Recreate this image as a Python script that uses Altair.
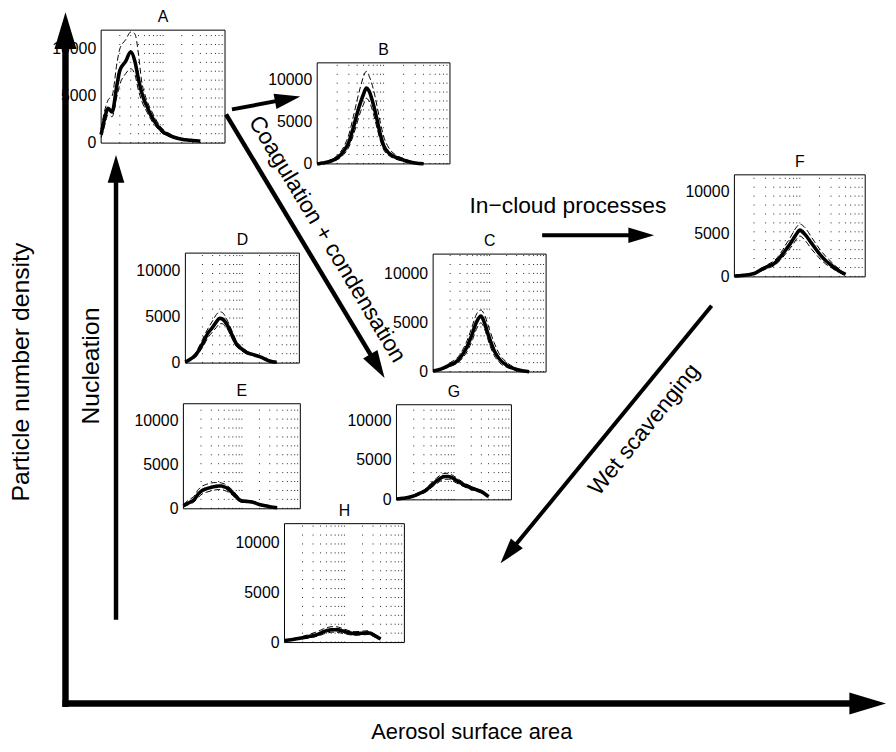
import altair as alt
import pandas as pd

# particle diameter (nm) at which the distributions were read
DIAM = [10, 11, 13, 15, 18, 20, 25, 30, 35, 40, 45, 50, 55, 60, 70, 80, 90,
        100, 120, 150, 200, 250, 300, 400, 500]

# dN/dlogDp for each regime: median (thick) and the two bounds (dashed)
A_MEAN = [900, 2200, 3700, 3300, 6200, 7700, 8700, 9700, 8700, 6800, 5400, 4500, 3900,
          3300, 2500, 1900, 1500, 1200, 900, 620, 420, 330, 280, 200, None]
A_HIGH = [1500, 3000, 4600, 5000, 8500, 10000, 11000, 11800, 11600, 9500, 6600, 5300, 4500,
          3900, 3000, 2300, 1800, 1450, 1100, 760, 500, 400, 330, 240, None]
A_LOW = [600, 1500, 3000, 2800, 5000, 6200, 7400, 7900, 7300, 5600, 4500, 3800, 3300,
         2800, 2100, 1600, 1250, 1000, 750, 520, 350, 280, 230, 160, None]

B_MEAN = [0, 60, 150, 260, 500, 700, 1500, 2600, 4300, 6000, 7300, 8300, 9000,
          8700, 7100, 5200, 3400, 2200, 1300, 800, 450, 230, 120, 20, None]
B_HIGH = [0, 100, 250, 400, 700, 1000, 2000, 3500, 5600, 7600, 9200, 10400, 11000,
          10500, 8900, 6800, 4800, 3300, 1900, 1100, 650, 350, 180, 40, None]
B_LOW = [0, 30, 100, 180, 350, 500, 1100, 2000, 3400, 4900, 6200, 7100, 7800,
         7500, 6000, 4200, 2700, 1700, 1000, 600, 330, 160, 80, 10, None]

C_MEAN = [100, 150, 260, 400, 600, 750, 1000, 1450, 2000, 2600, 3300, 4000, 4700,
          5200, 5700, 5100, 4200, 3400, 2200, 1300, 700, 420, 260, 100, 30]
C_HIGH = [150, 200, 330, 500, 750, 950, 1300, 1800, 2500, 3200, 4000, 4800, 5500,
          6000, 6300, 5900, 5100, 4300, 3000, 1800, 1000, 600, 380, 160, 50]
C_LOW = [60, 100, 190, 300, 450, 560, 800, 1150, 1600, 2100, 2700, 3300, 4000,
         4500, 5000, 4500, 3600, 2800, 1700, 950, 480, 280, 160, 60, 15]

D_MEAN = [100, 250, 550, 850, 1600, 2100, 3300, 3900, 4500, 4900, 4800, 4500, 4100,
          3600, 2700, 2000, 1700, 1500, 1150, 950, 700, 450, 230, 100, None]
D_HIGH = [150, 350, 700, 1100, 2000, 2600, 3800, 4600, 5300, 5600, 5500, 5100, 4600,
          4100, 3100, 2300, 1950, 1700, 1300, 1050, 780, 500, 270, 120, None]
D_LOW = [60, 180, 420, 650, 1300, 1700, 2800, 3400, 3900, 4300, 4300, 4000, 3700,
         3200, 2400, 1800, 1500, 1300, 1000, 850, 620, 400, 200, 80, None]

E_MEAN = [350, 500, 750, 1000, 1700, 2000, 2300, 2450, 2550, 2600, 2600, 2500, 2400,
          2200, 1800, 1400, 1050, 900, 850, 780, 500, 350, 240, 120, None]
E_HIGH = [500, 750, 1100, 1400, 2200, 2500, 2800, 2950, 3000, 3000, 2950, 2850, 2700,
          2500, 2100, 1650, 1250, 1050, 950, 870, 580, 400, 280, 140, None]
E_LOW = [250, 350, 550, 750, 1300, 1600, 1900, 2050, 2150, 2200, 2200, 2100, 2000,
         1850, 1500, 1150, 850, 750, 720, 680, 430, 300, 200, 100, None]

F_MEAN = [100, 120, 170, 220, 320, 400, 800, 1100, 1350, 1550, 1900, 2300, 2700,
          3100, 3800, 4500, 5100, 5500, 5000, 4000, 2700, 1900, 1400, 700, 300]
F_HIGH = [130, 160, 220, 280, 400, 500, 950, 1300, 1600, 1850, 2250, 2700, 3200,
          3700, 4500, 5300, 5900, 6200, 5800, 4700, 3300, 2400, 1800, 900, 380]
F_LOW = [70, 90, 120, 170, 250, 320, 650, 900, 1100, 1300, 1600, 1950, 2300,
         2650, 3300, 3900, 4500, 4800, 4300, 3300, 2200, 1500, 1100, 520, 220]

G_MEAN = [100, 130, 200, 270, 400, 500, 800, 1050, 1400, 1800, 2100, 2400, 2600,
          2800, 2950, 2950, 2850, 2650, 2300, 1900, 1500, 1250, 1050, 400, None]
G_HIGH = [150, 180, 260, 350, 500, 620, 950, 1250, 1650, 2100, 2450, 2750, 3000,
          3200, 3350, 3350, 3200, 3000, 2600, 2150, 1700, 1400, 1150, 500, None]
G_LOW = [60, 90, 150, 200, 300, 380, 650, 870, 1150, 1500, 1800, 2050, 2250,
         2450, 2600, 2600, 2500, 2300, 2000, 1650, 1300, 1100, 880, 350, None]

H_MEAN = [200, 230, 290, 350, 430, 480, 600, 700, 800, 950, 1100, 1200, 1250,
          1300, 1300, 1280, 1200, 1120, 1000, 900, 950, 1000, 800, 350, None]
H_HIGH = [250, 290, 360, 430, 540, 620, 800, 950, 1100, 1250, 1400, 1500, 1550,
          1600, 1600, 1550, 1450, 1350, 1200, 1100, 1150, 1200, 950, 420, None]
H_LOW = [150, 180, 230, 280, 340, 380, 470, 550, 630, 750, 870, 950, 1000,
         1050, 1050, 1020, 950, 900, 800, 730, 780, 820, 650, 280, None]

PANELS = ["A", "B", "C", "D", "E", "F", "G", "H"]
SERIES = [(A_MEAN, A_HIGH, A_LOW), (B_MEAN, B_HIGH, B_LOW), (C_MEAN, C_HIGH, C_LOW),
          (D_MEAN, D_HIGH, D_LOW), (E_MEAN, E_HIGH, E_LOW), (F_MEAN, F_HIGH, F_LOW),
          (G_MEAN, G_HIGH, G_LOW), (H_MEAN, H_HIGH, H_LOW)]

GRID_D = [20, 30, 40, 50, 60, 70, 80, 90, 100, 200, 300, 400, 500, 600, 700, 800, 900]
Y_TICKS = [0, 5000, 10000]

LABELS = ["Particle number density", "Aerosol surface area", "Nucleation",
          "Coagulation + condensation", "In\u2212cloud processes", "Wet scavenging"]

# --- layout (page pixels) ---
BOXES = {"A": (102, 227, 27, 141), "B": (320, 454, 60, 162), "C": (437, 551, 253, 372),
         "D": (187, 302, 252, 363), "E": (185, 303, 404, 510), "F": (741, 873, 173, 276),
         "G": (400, 516, 405, 501), "H": (287, 408, 525, 645)}
LABEL_X = [21, 476, 92, 330, 573, 650]
LABEL_Y = [372, 742, 366, 238, 205, 430]
LABEL_ANGLE = [270, 0, 270, 59, 0, 309]
LABEL_SIZE = [25, 22, 25, 23, 23, 23]
LABEL_BASE = ["middle", "alphabetic", "middle", "middle", "middle", "middle"]
ARROW_X1 = [66, 63, 117, 234, 228, 547, 718]
ARROW_Y1 = [710, 706.5, 622, 107, 112, 234, 305]
ARROW_X2 = [66, 894, 117, 303, 388, 660, 505]
ARROW_Y2 = [9, 706.5, 153, 94, 378, 234, 565]
ARROW_W = [6.5, 6.5, 4.5, 4, 4.5, 4, 4]
ARROW_HEAD = [37, 37, 28, 26, 28, 26, 26]

FONT = "Liberation Sans"
W, H = 888, 736

rows = []
for name, trio in zip(PANELS, SERIES):
    for kind, vals in zip(["mean", "high", "low"], trio):
        for d, v in zip(DIAM, vals):
            if v is not None:
                rows.append({"panel": name, "kind": kind, "d": d, "v": v})
curves = pd.DataFrame(rows)
grid_df = pd.DataFrame({"d": GRID_D, "lo": 0, "hi": 12000})
frame_df = pd.DataFrame({"d": [10], "d2": [1000], "lo": [0], "hi": [12000]})
ticks_df = pd.DataFrame({"d": 10, "v": Y_TICKS})


def make_panel(name):
    left, right, top, bottom = BOXES[name]
    xs = alt.Scale(type="log", domain=[10, 1000], range=[left - 8, right - 8])
    ys = alt.Scale(domain=[0, 12000], range=[bottom - 8, top - 8], nice=False, zero=False)

    def px(f):
        return alt.X(f"{f}:Q", scale=xs, axis=None)

    def py(f):
        return alt.Y(f"{f}:Q", scale=ys, axis=None)

    grid = alt.Chart(grid_df).mark_rule(color="#222", strokeWidth=1, strokeDash=[1, 8]).encode(
        x=px("d"), y=py("lo"), y2="hi:Q")
    sub = alt.Chart(curves).transform_filter(alt.datum.panel == name)
    bounds = sub.transform_filter(alt.datum.kind != "mean").mark_line(
        color="black", strokeWidth=1, strokeDash=[6, 3], interpolate="monotone").encode(
        x=px("d"), y=py("v"), detail="kind:N")
    median = sub.transform_filter(alt.datum.kind == "mean").mark_line(
        color="black", strokeWidth=3.6, interpolate="monotone").encode(x=px("d"), y=py("v"))
    frame = alt.Chart(frame_df).mark_rect(fillOpacity=0, stroke="black", strokeWidth=1).encode(
        x=px("d"), x2="d2:Q", y=py("lo"), y2="hi:Q")
    yl = alt.Chart(ticks_df).mark_text(align="right", baseline="middle", dx=-5,
                                       font=FONT, fontSize=16).encode(
        x=px("d"), y=py("v"), text=alt.Text("v:Q", format="d"))
    title = alt.Chart(pd.DataFrame({"d": [100], "v": [12000], "t": [name]})).mark_text(
        baseline="middle", dy=-13, font=FONT, fontSize=16).encode(x=px("d"), y=py("v"), text="t:N")
    return alt.layer(grid, bounds, median, frame, yl, title)


cx = alt.Scale(domain=[8, 8 + W], range=[0, W])
cy = alt.Scale(domain=[8, 8 + H], range=[0, H])
arrows = pd.DataFrame({"x1": ARROW_X1, "y1": ARROW_Y1, "x2": ARROW_X2, "y2": ARROW_Y2,
                       "w": ARROW_W, "head": ARROW_HEAD})
shafts = alt.Chart(arrows).transform_calculate(
    L="sqrt(pow(datum.x2 - datum.x1, 2) + pow(datum.y2 - datum.y1, 2))"
).transform_calculate(
    ex="datum.x2 - (datum.x2 - datum.x1) / datum.L * datum.head * 0.6",
    ey="datum.y2 - (datum.y2 - datum.y1) / datum.L * datum.head * 0.6",
).mark_rule(color="black", strokeCap="butt").encode(
    x=alt.X("x1:Q", scale=cx, axis=None), y=alt.Y("y1:Q", scale=cy, axis=None),
    x2="ex:Q", y2="ey:Q", strokeWidth=alt.StrokeWidth("w:Q", scale=None))
heads = alt.Chart(arrows).transform_calculate(
    ang="(atan2(datum.x2 - datum.x1, datum.y1 - datum.y2) * 180 / PI + 360) % 360",
    sz="pow(2 * datum.head, 2)",
).mark_point(shape="M0,0L-0.3,1L0.3,1Z", filled=True, color="black", opacity=1,
             strokeWidth=0).encode(
    x=alt.X("x2:Q", scale=cx, axis=None), y=alt.Y("y2:Q", scale=cy, axis=None),
    angle=alt.Angle("ang:Q", scale=None), size=alt.Size("sz:Q", scale=None))

label_df = pd.DataFrame({"t": LABELS, "x": LABEL_X, "y": LABEL_Y, "a": LABEL_ANGLE,
                         "s": LABEL_SIZE, "b": LABEL_BASE})
texts = alt.Chart(label_df).transform_filter(alt.datum.b == "middle").mark_text(
    font=FONT, baseline="middle", align="center", color="black").encode(
    x=alt.X("x:Q", scale=cx, axis=None), y=alt.Y("y:Q", scale=cy, axis=None),
    text="t:N", angle=alt.Angle("a:Q", scale=None), size=alt.Size("s:Q", scale=None))
xlabel = alt.Chart(label_df).transform_filter(alt.datum.b == "alphabetic").mark_text(
    font=FONT, baseline="alphabetic", align="center", color="black").encode(
    x=alt.X("x:Q", scale=cx, axis=None), y=alt.Y("y:Q", scale=cy, axis=None),
    text="t:N", size=alt.Size("s:Q", scale=None))
annot = alt.layer(shafts, heads, texts, xlabel)

chart = alt.layer(annot, *[make_panel(p) for p in PANELS]).resolve_scale(
    x="independent", y="independent"
).properties(width=W, height=H, padding=0, autosize="none", background="white").configure_view(
    strokeWidth=0)

chart.save("out.html", embed_options={"renderer": "svg", "actions": False})
